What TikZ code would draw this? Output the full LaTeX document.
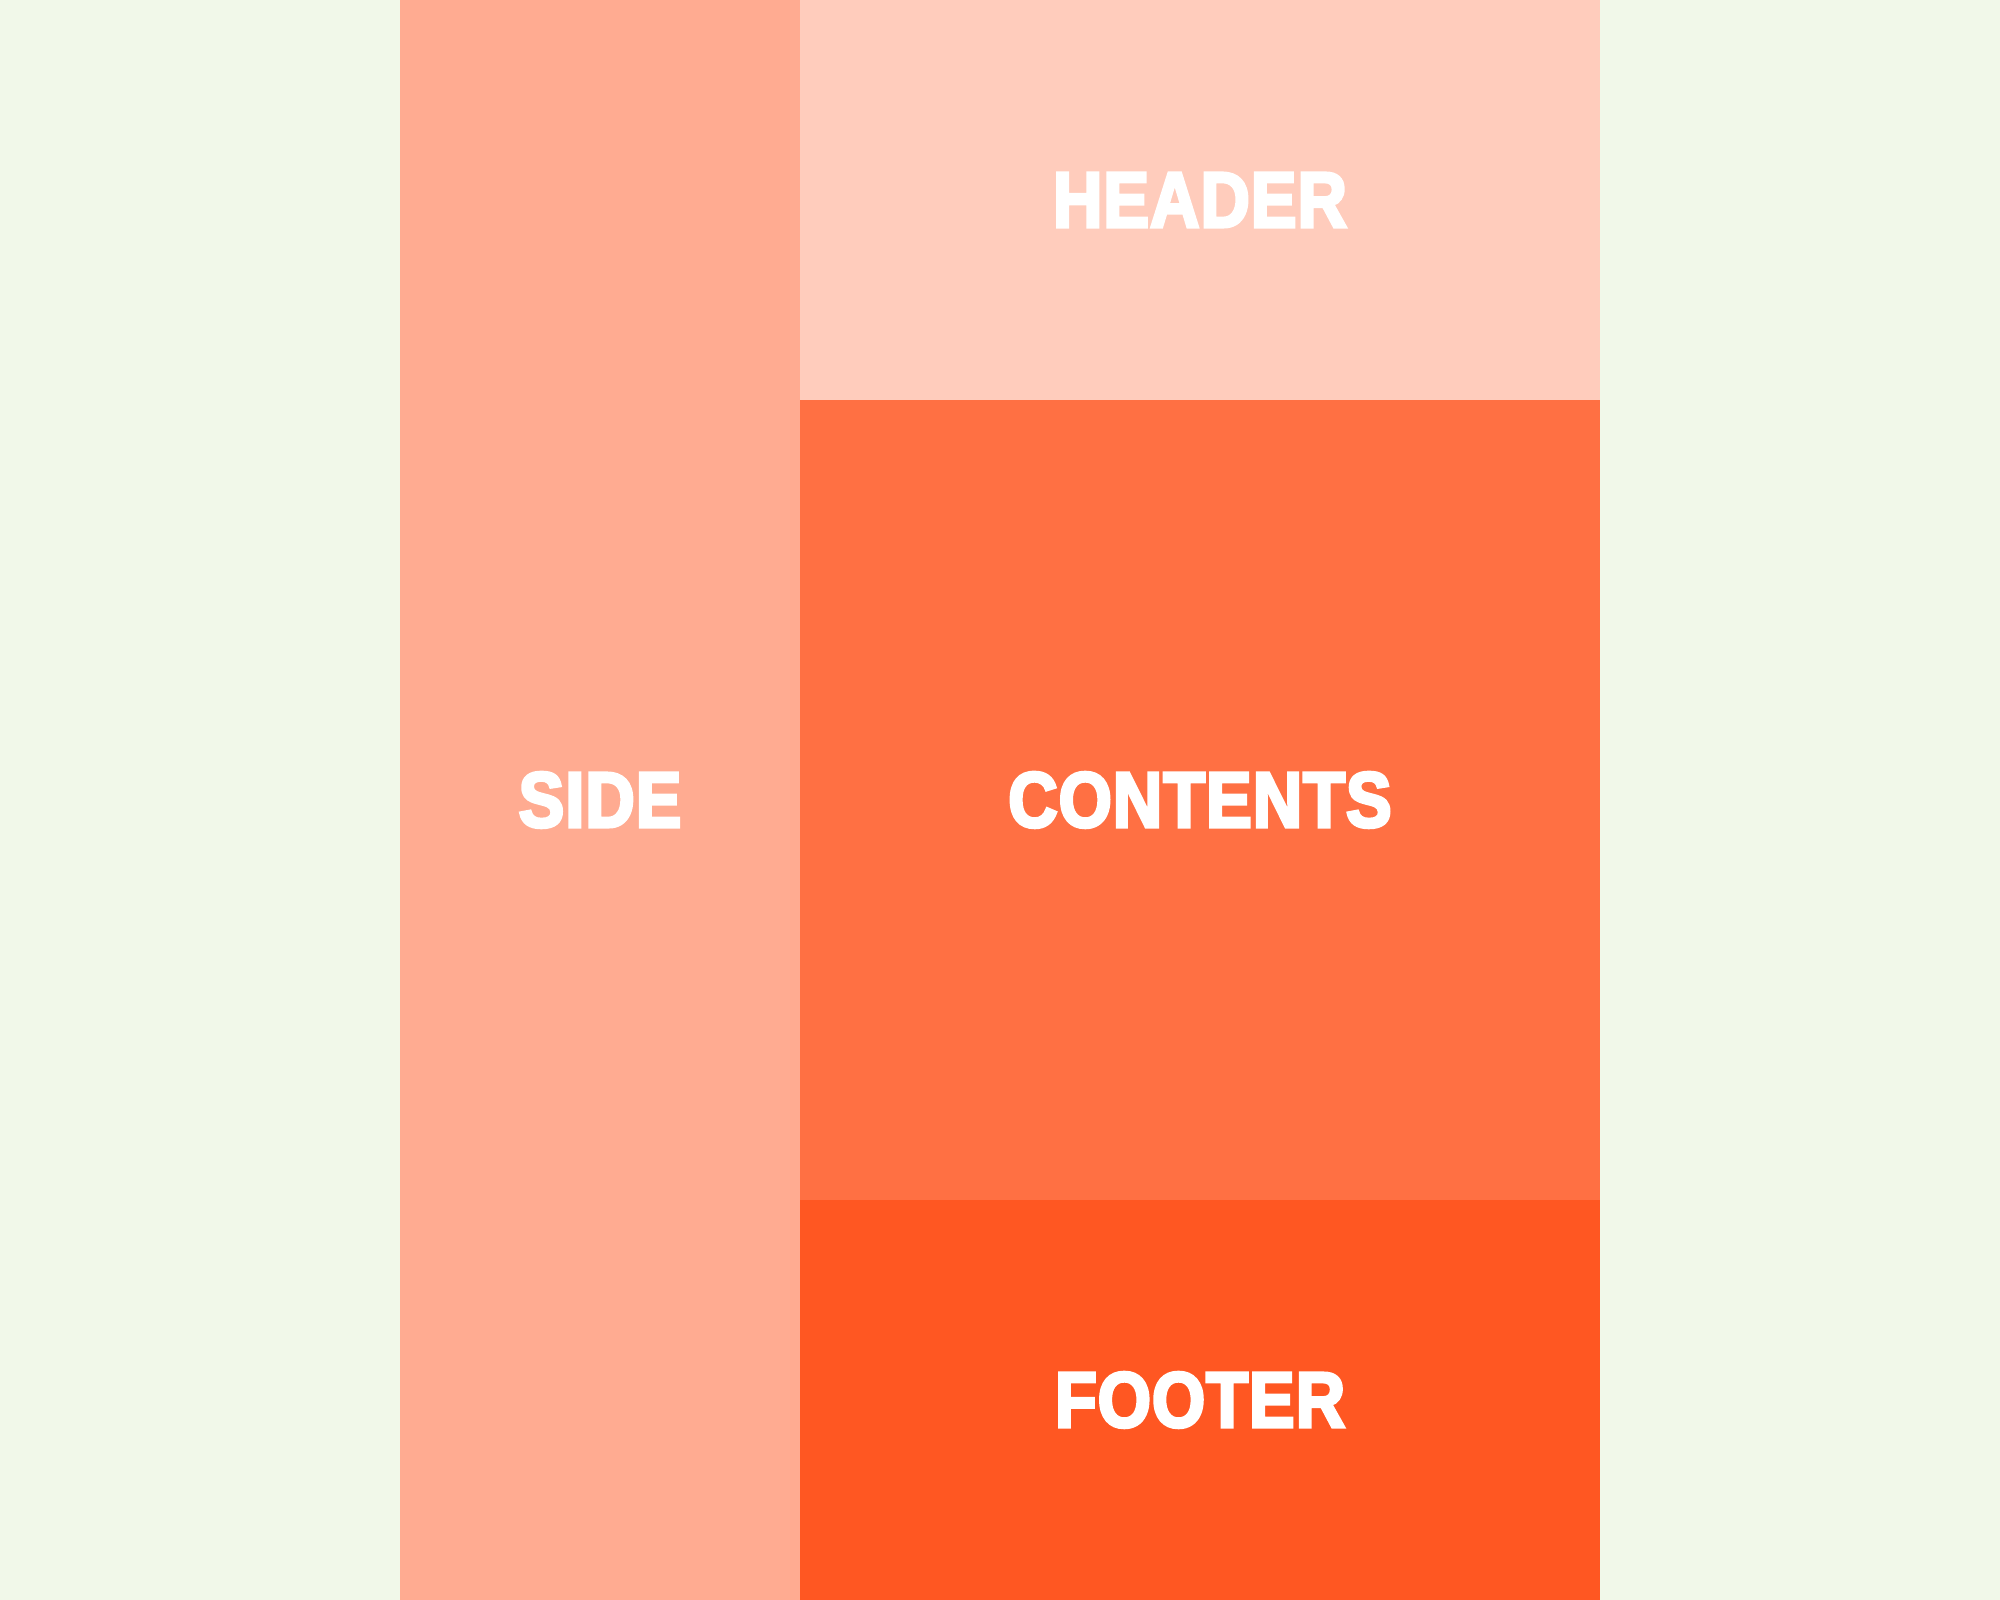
\documentclass[tikz,border=0pt]{standalone}
\usepackage{fontspec}
\newfontfamily\blockfont{Liberation Sans}[FakeStretch=0.87,FakeBold=4,LetterSpace=1.5]
\usetikzlibrary{positioning}
\definecolor{PageGreen}{HTML}{F1F8E9}
\definecolor{SideSalmon}{HTML}{FFAB91}
\definecolor{HeaderPeach}{HTML}{FFCCBC}
\definecolor{ContentOrange}{HTML}{FF7043}
\definecolor{FooterOrange}{HTML}{FF5722}
\tikzset{
  areabox/.style={draw=none,inner sep=0pt,outer sep=0pt,text=white,font=\blockfont\bfseries\fontsize{22.3pt}{24pt}\selectfont},
  sidebox/.style={areabox,fill=SideSalmon,minimum width=4cm,minimum height=16cm},
  headerbox/.style={areabox,fill=HeaderPeach,minimum width=8cm,minimum height=4cm},
  contentbox/.style={areabox,fill=ContentOrange,minimum width=8cm,minimum height=8cm},
  footerbox/.style={areabox,fill=FooterOrange,minimum width=8cm,minimum height=4cm}
}

\begin{document}
\begin{tikzpicture}
\fill[PageGreen] (0,0) rectangle (20,16);
\useasboundingbox (0,0) rectangle (20,16);
\node[sidebox] (side) at (6,8) {SIDE};
\node[headerbox, anchor=north west] (header) at (side.north east) {HEADER};
\node[contentbox, below=0pt of header] (contents) {CONTENTS};
\node[footerbox, below=0pt of contents] (footer) {FOOTER};
\end{tikzpicture}
\end{document}
